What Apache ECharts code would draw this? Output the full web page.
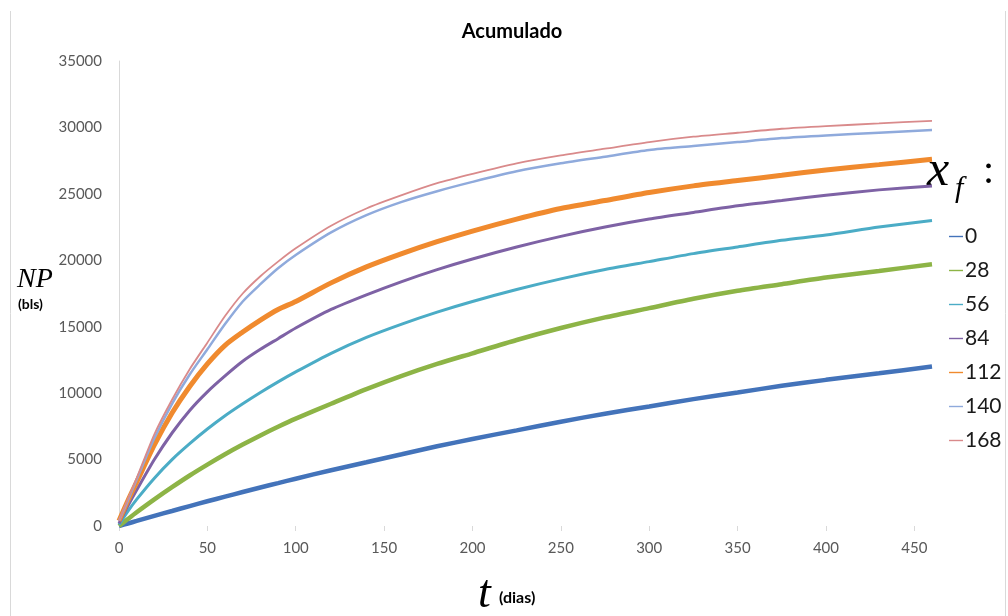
<!DOCTYPE html>
<html>
<head>
<meta charset="utf-8">
<script src="https://cdn.jsdelivr.net/npm/echarts@6/dist/echarts.min.js"></script>
<style>
  html, body { margin: 0; padding: 0; background: #fff; }
  #chart { width: 1008px; height: 616px; }
</style>
</head>
<body>
<div id="chart"></div>
<script>
// Time (days)
var dias = [0, 5, 10, 20, 30, 40, 50, 60, 70, 80, 90, 100, 120, 140, 160, 180, 200, 225, 250, 275, 300, 325, 350, 375, 400, 430, 460];

// Cumulative production NP (bls) for each xf value
var np_0   = [0, 190, 380, 760, 1130, 1500, 1860, 2210, 2560, 2900, 3230, 3560, 4200, 4800, 5400, 6000, 6550, 7200, 7850, 8450, 9000, 9550, 10050, 10550, 11000, 11500, 12000];
var np_28  = [0, 520, 1030, 2000, 2920, 3800, 4620, 5400, 6130, 6820, 7470, 8080, 9200, 10300, 11300, 12200, 13000, 14000, 14900, 15700, 16400, 17100, 17700, 18200, 18700, 19200, 19700];
var np_56  = [100, 1100, 2000, 3600, 5000, 6200, 7300, 8300, 9200, 10050, 10850, 11600, 13000, 14200, 15200, 16100, 16900, 17800, 18600, 19300, 19900, 20500, 21000, 21500, 21900, 22500, 23000];
var np_84  = [200, 1500, 2700, 5000, 7000, 8700, 10100, 11300, 12400, 13300, 14100, 14900, 16300, 17400, 18400, 19300, 20100, 21000, 21800, 22500, 23100, 23600, 24100, 24500, 24900, 25300, 25600];
var np_112 = [400, 1900, 3300, 6100, 8500, 10500, 12200, 13600, 14600, 15500, 16300, 16900, 18300, 19500, 20500, 21400, 22200, 23100, 23900, 24500, 25100, 25600, 26000, 26400, 26800, 27200, 27600];
var np_140 = [400, 1900, 3500, 6600, 9200, 11400, 13300, 15200, 16900, 18200, 19400, 20400, 22100, 23400, 24400, 25200, 25900, 26700, 27300, 27800, 28300, 28600, 28900, 29200, 29400, 29600, 29800];
var np_168 = [400, 2000, 3600, 6900, 9500, 11800, 13800, 15800, 17500, 18800, 19900, 20900, 22600, 23900, 24900, 25800, 26500, 27300, 27900, 28400, 28900, 29300, 29600, 29900, 30100, 30300, 30500];

var seriesNames = ['0', '28', '56', '84', '112', '140', '168'];
var seriesValues = [np_0, np_28, np_56, np_84, np_112, np_140, np_168];

var xTicks = [0, 50, 100, 150, 200, 250, 300, 350, 400, 450];

var colors = ['#4373BA', '#8DB446', '#4BACC6', '#7E62A5', '#F08A2E', '#8FAADC', '#D98A8B'];
var widths = [4.5, 4.5, 3, 3, 5, 2.5, 1.8];

var sansFont = 'Lato, "Open Sans", sans-serif';
var serifFont = '"Liberation Serif", "DejaVu Serif", serif';

var series = seriesNames.map(function (name, i) {
  return {
    name: name,
    type: 'line',
    data: dias.map(function (t, k) { return [t, seriesValues[i][k]]; }),
    smooth: 0.25,
    symbol: 'diamond',
    symbolSize: 4,
    showSymbol: false,
    lineStyle: { color: colors[i], width: widths[i] },
    itemStyle: { color: colors[i] },
    emphasis: { disabled: true },
    z: 2 + i
  };
});

var chart = echarts.init(document.getElementById('chart'), null, { renderer: 'canvas' });
chart.setOption({
  animation: false,
  backgroundColor: '#ffffff',
  title: {
    text: 'Acumulado',
    left: 507,
    top: 17,
    textAlign: 'center',
    textStyle: { fontFamily: sansFont, fontWeight: 'bold', fontSize: 20, color: '#000' }
  },
  grid: { left: 119, right: 76, top: 61, bottom: 90, containLabel: false },
  legend: {
    orient: 'vertical',
    left: 944,
    top: 221,
    itemWidth: 14,
    itemHeight: 6,
    itemGap: 13,
    icon: 'path://M0,0 L14,0 L14,1.4 L0,1.4 Z',
    textStyle: { fontFamily: sansFont, fontSize: 21, lineHeight: 21, color: '#1a1a1a', padding: [0, 0, 0, -3] },
    data: seriesNames
  },
  xAxis: {
    type: 'value',
    min: 0,
    max: 460,
    interval: 50,
    splitLine: { show: false },
    axisLine: { show: false },
    axisTick: { show: true, length: 5, customValues: xTicks, lineStyle: { color: '#D9D9D9', width: 1 } },
    axisLabel: { customValues: xTicks, margin: 15, fontFamily: sansFont, fontSize: 15, color: '#595959' }
  },
  yAxis: {
    type: 'value',
    min: 0,
    max: 35000,
    interval: 5000,
    splitLine: { show: false },
    axisLine: { show: true, lineStyle: { color: '#D9D9D9', width: 1 } },
    axisTick: { show: false },
    axisLabel: {
      margin: 17, fontFamily: sansFont, fontSize: 15, color: '#595959',
      formatter: function (v) { return String(v); }
    }
  },
  graphic: [
    { type: 'line', shape: { x1: 10.5, y1: 11, x2: 10.5, y2: 616 }, style: { stroke: '#D9D9D9', lineWidth: 1 } },
    { type: 'line', shape: { x1: 1005.5, y1: 11, x2: 1005.5, y2: 616 }, style: { stroke: '#D9D9D9', lineWidth: 1 } },
    { type: 'text', left: 17, top: 266, style: { text: 'NP', font: 'italic 28px ' + serifFont, fill: '#000' } },
    { type: 'text', left: 18, top: 297, style: { text: '(bls)', font: 'bold 14px ' + sansFont, fill: '#000' } },
    { type: 'text', left: 478, top: 572, style: { text: 't', font: 'italic 46px ' + serifFont, fill: '#000' } },
    { type: 'text', left: 499, top: 590, style: { text: '(dias)', font: 'bold 16px ' + sansFont, fill: '#000' } },
    { type: 'text', left: 927, top: 147, style: { text: 'x', font: 'italic 50px ' + serifFont, fill: '#000' } },
    { type: 'text', left: 955, top: 174, style: { text: 'f', font: 'italic 30px ' + serifFont, fill: '#000' } },
    { type: 'text', left: 983, top: 152, style: { text: ':', font: '40px ' + serifFont, fill: '#000' } }
  ],
  series: series
});
</script>
</body>
</html>
